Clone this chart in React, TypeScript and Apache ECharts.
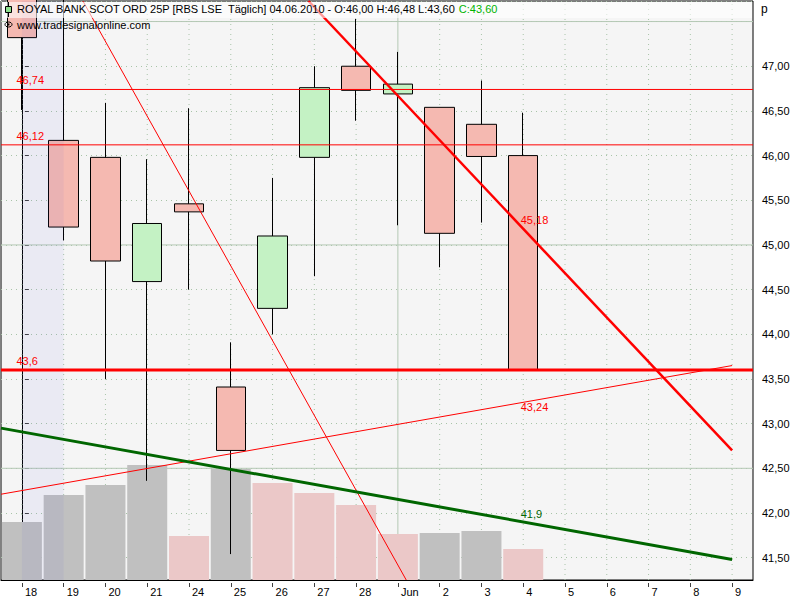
import React, { useEffect, useRef } from "react";
import * as echarts from "echarts";

const categories = ["18", "19", "20", "21", "24", "25", "26", "27", "28", "Jun", "2", "3", "4", "5", "6", "7", "8", "9"];
const opens = [47.9, 46.17, 45.98, 44.59, 45.46, 43.41, 44.29, 45.98, 47.0, 46.69, 46.54, 46.35, 46.0];
const closes = [47.32, 45.2, 44.82, 45.24, 45.37, 42.7, 45.1, 46.76, 46.73, 46.8, 45.13, 45.99, 43.6];
const lows = [46.51, 45.05, 43.5, 42.36, 44.5, 41.54, 44.0, 44.65, 46.39, 45.22, 44.75, 45.25, 43.6];
const highs = [48.0, 47.8, 46.59, 45.96, 46.53, 43.91, 45.75, 47.0, 47.53, 47.16, 46.54, 46.84, 46.48];
const volumes = [58, 85, 95, 115, 44, 111, 97, 87, 75, 46, 47, 49, 31];
const volumePink = [false, false, false, false, true, false, true, true, true, true, false, false, true];

const levelValues = [46.74, 46.12, 43.6];
const levelLabels = ["46,74", "46,12", "43,6"];
const levelWidths = [1, 1, 3];

const steepLine = [[1.46, 47.73], [9.2, 41.25]];
const resistLine = [[6.86, 47.73], [17, 42.7]];
const resistLabel = { x: 12, y: 45.18, text: "45,18" };
const supportLine = [[-0.5, 42.21], [17, 43.65]];
const supportLabel = { x: 12, y: 43.24, text: "43,24" };
const greenLine = [[-0.5, 42.95], [17, 41.48]];
const greenLabel = { x: 12, y: 41.9, text: "41,9" };

const majorLevels = [42.5, 45, 47.5];
const monthStartIndex = 9;
const shadeRange = [0, 1];

const yMin = 41.25;
const yMax = 47.73;
const xMin = -0.5;
const xMax = 17.5;

const headerMain = "ROYAL BANK SCOT ORD 25P [RBS LSE  Täglich] 04.06.2010 - O:46,00 H:46,48 L:43,60 ";
const headerClose = "C:43,60";
const siteText = "www.tradesignalonline.com";

const FONT = "'Liberation Sans', Arial, sans-serif";

export default function App() {
  const ref = useRef<HTMLDivElement>(null);
  useEffect(() => {
    if (!ref.current) return;
    const chart = echarts.init(ref.current, undefined, { renderer: "svg" });
    const candleData = opens.map((o, i) => [o, closes[i], lows[i], highs[i]]);
    const volData = volumes.map((v, i) => ({
      value: v,
      itemStyle: { color: volumePink[i] ? "#ebc8c8" : "#c0c0c0" },
    }));

    const plainLine = (data: any[], color: string, width: number, z: number, type: any = "solid", extra: any = {}) => ({
      type: "line",
      xAxisIndex: 1,
      yAxisIndex: 0,
      data,
      symbol: "none",
      silent: true,
      z,
      lineStyle: { color, width, type },
      itemStyle: { color },
      emphasis: { disabled: true },
      ...extra,
    });

    const labelPoint = (x: number, y: number, text: string, color: string, pos: number[]) => ({
      markPoint: {
        silent: true,
        symbol: "circle",
        symbolSize: 1,
        itemStyle: { color: "rgba(0,0,0,0)" },
        label: {
          show: true,
          formatter: "{b}",
          position: pos,
          color,
          fontSize: 11,
          fontFamily: FONT,
        },
        data: [{ coord: [x, y], name: text }],
      },
    });

    const verticalSeries = categories.map((_, i) =>
      i === monthStartIndex
        ? plainLine([[i, yMin], [i, yMax]], "#b4c8b4", 1, 1)
        : plainLine([[i, yMin], [i, yMax]], "#a8c4a8", 1, 1, [1, 4])
    );
    const majorSeries = majorLevels.map((v) => plainLine([[xMin, v], [xMax, v]], "#b4c8b4", 1, 1));
    const levelSeries = levelValues.map((v, i) =>
      plainLine([[xMin, v], [xMax, v]], "#ff0000", levelWidths[i], 5, "solid",
        labelPoint(xMin, v, levelLabels[i], "#ff0000", [16, -14]))
    );
    const shadeSeries = plainLine(
      [[shadeRange[0], yMax], [shadeRange[1], yMax]],
      "rgba(0,0,0,0)",
      0,
      4,
      "solid",
      { areaStyle: { color: "rgba(60,60,220,0.06)", origin: "start", opacity: 1 } }
    );

    const noPointer = { show: false };

    chart.setOption({
      animation: false,
      backgroundColor: "#ffffff",
      tooltip: { show: false },
      axisPointer: { show: false, triggerOn: "none" },
      grid: {
        left: 1,
        right: 47,
        top: 1,
        bottom: 20,
        show: true,
        backgroundColor: "#f5f5f5",
        borderColor: "#000000",
        borderWidth: 1,
        z: 0,
      },
      xAxis: [
        {
          type: "category",
          data: categories,
          boundaryGap: true,
          axisPointer: noPointer,
          axisLine: { show: true, lineStyle: { color: "#000000" } },
          axisTick: {
            show: true,
            alignWithLabel: true,
            interval: 0,
            length: 7,
            lineStyle: { color: "#404040", type: [0, 3, 4, 20] },
          },
          axisLabel: {
            interval: 0,
            align: "left",
            margin: 6,
            padding: [0, 0, 0, 3],
            color: "#000000",
            fontSize: 11,
            fontFamily: FONT,
          },
          splitLine: { show: false },
        },
        {
          type: "value",
          min: xMin,
          max: xMax,
          show: false,
          axisPointer: noPointer,
          splitLine: { show: false },
        },
      ],
      yAxis: [
        {
          type: "value",
          position: "right",
          min: yMin,
          max: yMax,
          splitNumber: 13,
          scale: true,
          axisPointer: noPointer,
          axisLine: { show: true, lineStyle: { color: "#000000" } },
          axisTick: {
            show: true,
            length: 7,
            lineStyle: { color: "#404040", type: [0, 3, 4, 20] },
          },
          axisLabel: {
            margin: 9,
            color: "#000000",
            fontSize: 11,
            fontFamily: FONT,
            showMinLabel: false,
            showMaxLabel: false,
            formatter: (v: number) => {
              const r = Math.round(v * 2) / 2;
              if (Math.abs(r - v) > 1e-6 || v > 47.2) return "";
              return v.toFixed(2).replace(".", ",");
            },
          },
          splitLine: { show: true, lineStyle: { type: [1, 4], color: "#a8c4a8" } },
        },
        {
          type: "value",
          min: 0,
          max: 579,
          show: false,
          axisPointer: noPointer,
          splitLine: { show: false },
        },
      ],
      graphic: [
        {
          type: "rect",
          z: 100,
          silent: true,
          shape: { x: 2, y: 2, width: 750, height: 16 },
          style: { fill: "rgba(255,255,255,0.6)" },
        },
        {
          type: "line",
          z: 101,
          silent: true,
          shape: { x1: 8.5, y1: 2, x2: 8.5, y2: 17 },
          style: { stroke: "#000000", lineWidth: 1 },
        },
        {
          type: "rect",
          z: 102,
          silent: true,
          shape: { x: 5.5, y: 6.5, width: 6, height: 6 },
          style: { fill: "#8ee08e", stroke: "#000000", lineWidth: 1 },
        },
        {
          type: "text",
          z: 103,
          silent: true,
          x: 17,
          y: 3,
          style: {
            text: "{a|" + headerMain + "}{c|" + headerClose + "}",
            fontSize: 11,
            fontFamily: FONT,
            rich: {
              a: { fill: "#000000", fontSize: 11, fontFamily: FONT },
              c: { fill: "#00b400", fontSize: 11, fontFamily: FONT },
            },
          },
        },
        {
          type: "ellipse",
          z: 103,
          silent: true,
          shape: { cx: 8.5, cy: 24.5, rx: 3.5, ry: 2.5 },
          style: { fill: "none", stroke: "#000000", lineWidth: 1 },
        },
        {
          type: "circle",
          z: 103,
          silent: true,
          shape: { cx: 8.5, cy: 24.5, r: 1 },
          style: { fill: "#000000" },
        },
        {
          type: "text",
          z: 103,
          silent: true,
          x: 17,
          y: 19,
          style: { text: siteText, fontSize: 11, fontFamily: FONT, fill: "#000000" },
        },
        {
          type: "text",
          z: 103,
          silent: true,
          x: 761,
          y: 3,
          style: { text: "p", fontSize: 12, fontFamily: FONT, fill: "#000000" },
        },
      ],
      series: [
        ...verticalSeries,
        ...majorSeries,
        {
          type: "bar",
          name: "Volume",
          xAxisIndex: 0,
          yAxisIndex: 1,
          data: volData,
          barWidth: 40,
          silent: true,
          z: 2,
        },
        {
          type: "candlestick",
          name: "RBS",
          xAxisIndex: 0,
          yAxisIndex: 0,
          data: candleData,
          barWidth: 30,
          clip: true,
          silent: true,
          z: 3,
          itemStyle: {
            color: "#c4f2c4",
            color0: "#f5b9b1",
            borderColor: "#000000",
            borderColor0: "#000000",
            borderWidth: 1,
          },
        },
        shadeSeries,
        ...levelSeries,
        plainLine(steepLine, "#ff0000", 1, 6),
        plainLine(resistLine, "#ff0000", 2.5, 6, "solid",
          labelPoint(resistLabel.x, resistLabel.y, resistLabel.text, "#ff0000", [-2, -14])),
        plainLine(supportLine, "#ff0000", 1, 6, "solid",
          labelPoint(supportLabel.x, supportLabel.y, supportLabel.text, "#ff0000", [-2, 0])),
        plainLine(greenLine, "#006600", 3, 6, "solid",
          labelPoint(greenLabel.x, greenLabel.y, greenLabel.text, "#006600", [-2, -13])),
      ],
    });
    return () => chart.dispose();
  }, []);
  return <div ref={ref} style={{ width: 800, height: 600, position: "absolute", left: 0, top: 0 }} />;
}
